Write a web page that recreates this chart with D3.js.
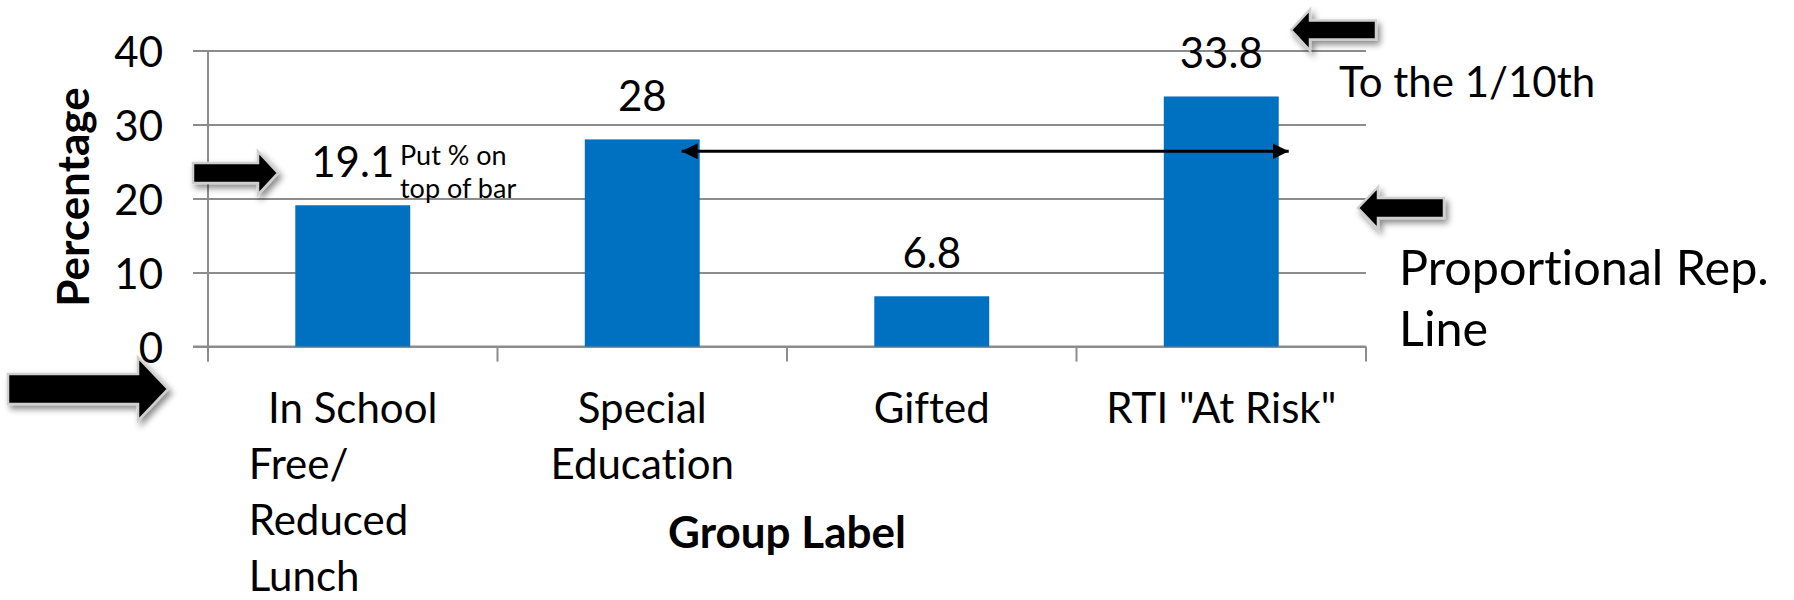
<!DOCTYPE html>
<html>
<head>
<meta charset="utf-8">
<script src="https://cdn.jsdelivr.net/npm/d3@7"></script>
<style>
  html, body { margin: 0; padding: 0; background: #fff; }
  svg { display: block; font-family: Lato, "Open Sans", sans-serif; font-variant-ligatures: none; }
</style>
</head>
<body>
<svg id="chart" width="1794" height="600"></svg>
<script>
// ---- data ----
const categories = ["In School Free/ Reduced Lunch", "Special Education", "Gifted", "RTI \"At Risk\""];
const categoryLines = [["In School", "Free/", "Reduced", "Lunch"], ["Special", "Education"], ["Gifted"], ["RTI \"At Risk\""]];
const percentages = [19.1, 28, 6.8, 33.8];
const yTicks = [0, 10, 20, 30, 40];
const yAxisTitle = "Percentage";
const xAxisTitle = "Group Label";
const proportionalRepLevel = 26.4;   // height of the double-headed reference line
const noteLabelTop = ["Put % on", "top of bar"];
const noteDecimal = "To the 1/10th";
const noteRepLine = ["Proportional Rep.", "Line"];

// ---- layout ----
const W = 1794, H = 600;
const plot = { left: 208, right: 1366, top: 50.6, bottom: 346.6 };
const gridColor = "#8c8c8c";
const barColor = "#0070C0";
const fsMain = 42, fsTitle = 44, fsBig = 48.5, fsSmall = 27;

const svg = d3.select("#chart");

const x = d3.scaleBand()
  .domain(categories)
  .range([plot.left, plot.right])
  .paddingInner(0.603)
  .paddingOuter(0.3015);

const y = d3.scaleLinear()
  .domain([0, 40])
  .range([plot.bottom, plot.top]);

// defs: arrow markers and drop shadow for block arrows
const defs = svg.append("defs");
defs.append("marker")
  .attr("id", "tri")
  .attr("viewBox", "0 0 16 16")
  .attr("refX", 16).attr("refY", 8)
  .attr("markerWidth", 16).attr("markerHeight", 16)
  .attr("markerUnits", "userSpaceOnUse")
  .attr("orient", "auto-start-reverse")
  .append("path").attr("d", "M0,0 L16,8 L0,16 Z").attr("fill", "#000");

const shadow = defs.append("filter").attr("id", "shadow")
  .attr("x", "-30%").attr("y", "-30%").attr("width", "160%").attr("height", "180%");
shadow.append("feDropShadow")
  .attr("dx", 3).attr("dy", 4).attr("stdDeviation", 3)
  .attr("flood-color", "#000").attr("flood-opacity", 0.45);

// ---- y axis with gridlines ----
const yAxis = d3.axisLeft(y)
  .tickValues(yTicks)
  .tickSize(-(plot.right - plot.left))
  .tickPadding(45);

const gy = svg.append("g")
  .attr("transform", `translate(${plot.left},0)`)
  .call(yAxis);
gy.select(".domain").remove();
gy.selectAll(".tick line")
  .attr("x1", -15)
  .attr("stroke", gridColor)
  .attr("stroke-width", 2);
gy.selectAll(".tick text")
  .attr("dy", 15.5)
  .attr("fill", "#000")
  .style("font-size", fsMain + "px")
  .style("font-family", "Lato, sans-serif");

// vertical axis line
svg.append("line")
  .attr("x1", plot.left).attr("x2", plot.left)
  .attr("y1", plot.top).attr("y2", plot.bottom + 15)
  .attr("stroke", gridColor).attr("stroke-width", 2);

// ---- x axis ----
const boundaries = categories.map(c => x(c) - x.step() * x.paddingInner() / 2).concat([plot.right]);
svg.append("line")
  .attr("x1", plot.left - 15).attr("x2", plot.right)
  .attr("y1", plot.bottom).attr("y2", plot.bottom)
  .attr("stroke", gridColor).attr("stroke-width", 2);
svg.append("g").selectAll("line")
  .data(boundaries)
  .join("line")
  .attr("x1", d => d).attr("x2", d => d)
  .attr("y1", plot.bottom).attr("y2", plot.bottom + 15)
  .attr("stroke", gridColor).attr("stroke-width", 2);

// ---- bars ----
svg.append("g").selectAll("rect")
  .data(percentages)
  .join("rect")
  .attr("x", (d, i) => x(categories[i]))
  .attr("width", x.bandwidth())
  .attr("y", d => y(d))
  .attr("height", d => y(0) - y(d))
  .attr("fill", barColor);

// value labels
svg.append("g").selectAll("text")
  .data(percentages)
  .join("text")
  .attr("x", (d, i) => x(categories[i]) + x.bandwidth() / 2)
  .attr("y", d => y(d) - 28)
  .attr("text-anchor", "middle")
  .style("font-size", fsMain + "px")
  .text(d => d);

// category labels (first label: first line centred, the rest hang from a common left edge)
const catG = svg.append("g");
categoryLines.forEach((lines, i) => {
  const cx = x(categories[i]) + x.bandwidth() / 2;
  lines.forEach((ln, j) => {
    const hang = (i === 0 && j > 0);
    catG.append("text")
      .attr("x", hang ? cx - 104 : cx)
      .attr("y", 423 + j * 56)
      .attr("text-anchor", hang ? "start" : "middle")
      .style("font-size", fsMain + "px")
      .text(ln);
  });
});

// axis titles
svg.append("text")
  .attr("transform", `translate(89,197) rotate(-90)`)
  .attr("text-anchor", "middle")
  .style("font-size", fsTitle + "px")
  .style("font-weight", "bold")
  .text(yAxisTitle);

svg.append("text")
  .attr("x", (plot.left + plot.right) / 2)
  .attr("y", 548)
  .attr("text-anchor", "middle")
  .style("font-size", fsTitle + "px")
  .style("font-weight", "bold")
  .text(xAxisTitle);

// ---- annotations ----
// double-headed proportional representation line
const repY = y(proportionalRepLevel);
svg.append("line")
  .attr("x1", x(categories[1]) + x.bandwidth() - 18)
  .attr("x2", x(categories[3]) + x.bandwidth() + 10)
  .attr("y1", repY).attr("y2", repY)
  .attr("stroke", "#000").attr("stroke-width", 3)
  .attr("marker-start", "url(#tri)")
  .attr("marker-end", "url(#tri)");

// block arrows: tip position, direction, overall length, shaft and head sizes
function blockArrow(tipX, tipY, dir, len, shaftH, headH, headLen) {
  const s = dir === "right" ? -1 : 1;
  const baseX = tipX + s * headLen, endX = tipX + s * len;
  const pts = [
    [tipX, tipY],
    [baseX, tipY - headH / 2],
    [baseX, tipY - shaftH / 2],
    [endX, tipY - shaftH / 2],
    [endX, tipY + shaftH / 2],
    [baseX, tipY + shaftH / 2],
    [baseX, tipY + headH / 2]
  ];
  svg.append("path")
    .attr("d", "M" + pts.map(p => p.join(",")).join("L") + "Z")
    .attr("fill", "#000")
    .attr("stroke", "#cfcfcf")
    .attr("stroke-width", 2.5)
    .attr("stroke-linejoin", "miter")
    .attr("filter", "url(#shadow)");
}
blockArrow(278, 173, "right", 85, 20, 43, 20);
blockArrow(168, 389, "right", 160, 30, 63, 30);
blockArrow(1291, 30, "left", 85, 19, 41, 19);
blockArrow(1358, 208, "left", 86, 20, 42, 20);

// note texts
const notesG = svg.append("g");
noteLabelTop.forEach((t, j) => {
  notesG.append("text")
    .attr("x", 400).attr("y", 165 + j * 33)
    .style("font-size", fsSmall + "px")
    .text(t);
});
notesG.append("text")
  .attr("x", 1339).attr("y", 97)
  .style("font-size", fsMain + "px")
  .text(noteDecimal);
noteRepLine.forEach((t, j) => {
  notesG.append("text")
    .attr("x", 1399).attr("y", 285 + j * 61)
    .style("font-size", fsBig + "px")
    .text(t);
});
</script>
</body>
</html>
